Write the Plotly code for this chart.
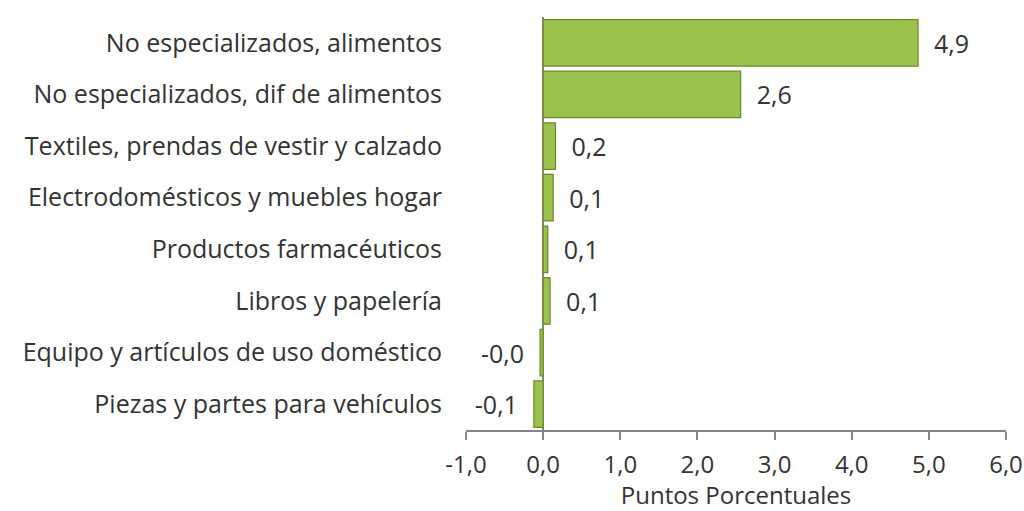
import plotly.graph_objects as go

categories = [
    "No especializados, alimentos",
    "No especializados, dif de alimentos",
    "Textiles, prendas de vestir y calzado",
    "Electrodomésticos y muebles hogar",
    "Productos farmacéuticos",
    "Libros y papelería",
    "Equipo y artículos de uso doméstico",
    "Piezas y partes para vehículos",
]
values = [4.86, 2.56, 0.16, 0.13, 0.06, 0.09, -0.04, -0.12]
x_ticks = [-1, 0, 1, 2, 3, 4, 5, 6]
x_tick_labels = ["-1,0", "0,0", "1,0", "2,0", "3,0", "4,0", "5,0", "6,0"]
x_title = "Puntos Porcentuales"

PAD = "\u00a0\u00a0"
labels = [(PAD + f"{v:.1f}".replace(".", ",")) if v >= 0 else (f"{v:.1f}".replace(".", ",") + PAD)
          for v in values]
idx = list(range(len(categories)))

FONT = "Open Sans"
FS = 25
TICK_FS = 24
TXT = "#333333"
AX = "#868686"

fig = go.Figure()
fig.add_trace(go.Bar(
    x=values, y=idx, orientation="h",
    marker=dict(color="#9cc24e", line=dict(color="#6a8a2a", width=1.2)),
    width=0.9,
    text=labels, textposition="outside",
    textfont=dict(family=FONT, size=FS, color=TXT),
    cliponaxis=False,
    hoverinfo="skip",
))
fig.update_layout(
    width=1024, height=511,
    margin=dict(l=466, r=18, t=17, b=81, autoexpand=False),
    paper_bgcolor="white", plot_bgcolor="white",
    showlegend=False,
    font=dict(family=FONT, size=FS, color=TXT),
    uniformtext=dict(minsize=FS, mode="show"),
    xaxis=dict(
        range=[-1, 6], tickvals=x_ticks, ticktext=x_tick_labels,
        showgrid=False, zeroline=True, zerolinecolor=AX, zerolinewidth=1.5,
        showline=True, linecolor=AX, linewidth=1.5,
        ticks="outside", ticklen=8, tickcolor=AX, tickwidth=1.5,
        ticklabelstandoff=4,
        title=dict(text=x_title, standoff=9, font=dict(size=24)),
        tickfont=dict(size=TICK_FS), automargin=False,
    ),
    yaxis=dict(
        range=[len(categories) - 0.5, -0.5],
        tickvals=idx, ticktext=categories,
        showgrid=False, zeroline=False, showline=False, ticks="",
        ticklabelstandoff=23, automargin=False,
        tickfont=dict(size=FS),
    ),
    yaxis2=dict(
        overlaying="y", anchor="free", position=(0 - (-1)) / (6 - (-1)),
        side="left", automargin=False,
        range=[len(categories) - 0.5, -0.5],
        tickvals=[i - 0.5 for i in range(len(categories) + 1)],
        showticklabels=False, showgrid=False, zeroline=False,
        showline=True, linecolor=AX, linewidth=1.5,
        ticks="outside", ticklen=7, tickcolor=AX, tickwidth=1.5,
    ),
    bargap=0.1,
)
fig.write_html(
    "out.html",
    config={"displayModeBar": False},
    post_script="document.body.style.margin='0';document.body.style.overflow='hidden';",
)
